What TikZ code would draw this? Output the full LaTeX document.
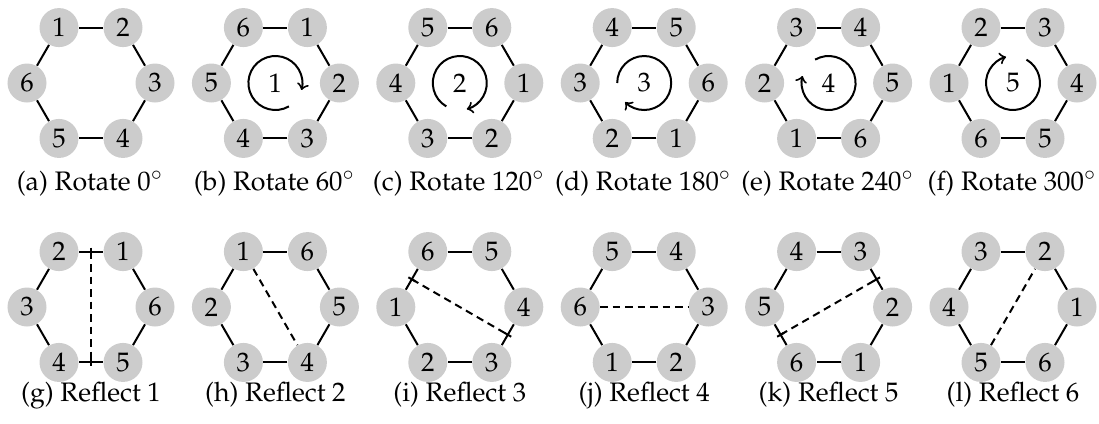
\documentclass[tikz,border=0pt]{standalone}
\usepackage{amsmath}
\usepackage[T1]{fontenc}
\usepackage{mathpazo}
\usepackage{tikz}
\usetikzlibrary{calc,arrows}

\begin{document}
\begin{tikzpicture}[x=0.4pt,y=0.4pt,font=\fontsize{10.7}{12}\selectfont]
\tikzstyle{vtx}=[circle, fill=gray!40, inner sep=0pt, minimum size=15.6pt]
\tikzstyle{edg}=[line width=0.8pt]
\tikzstyle{axis}=[line width=0.8pt, dash pattern=on 3pt off 2pt]
\useasboundingbox (0,0) rectangle (1099,423);
% rotations
\foreach \k/\lt/\ang in {0/a/0,1/b/60,2/c/120,3/d/180,4/e/240,5/f/300}{
\foreach \i in {0,...,5}{
\pgfmathtruncatemacro{\lab}{mod(\i-\k+6,6)+1}
\node[vtx] (r\k\i) at ({91+184.4*\k+64*cos(120-60*\i)},{340+64*sin(120-60*\i)}){\lab};
}
\foreach \i in {0,...,5}{\draw[edg] let \n1 = {int(mod(\i+1,6))} in (r\k\i) -- (r\k\n1);}
\node[anchor=base] (rc\k) at ({90+184.4*\k},233){(\lt) Rotate \ang$^\circ$};
}
\foreach \k in {1,...,5}{
\node (c\k) at ({91+184.4*\k},340){\k};
\draw[edg,->] (c\k.center) ++({-60*\k}:27) arc[start angle={-60*\k}, end angle={-60*\k-315}, radius=27];
}
% reflections
\foreach \j/\lt in {1/g,2/h,3/i,4/j,5/k,6/l}{
\foreach \i in {0,...,5}{
\pgfmathtruncatemacro{\lab}{mod(8-\j-\i+12,6)+1}
\node[vtx] (f\j\i) at ({91+184.4*(\j-1)+64*cos(120-60*\i)},{116+64*sin(120-60*\i)}){\lab};
}
\foreach \i in {0,...,5}{\draw[edg] let \n1 = {int(mod(\i+1,6))} in (f\j\i) -- (f\j\n1);}
\node[anchor=base] (fc\j) at ({91+184.4*(\j-1)},22){(\lt) Reflect \j};
}
% axes through two vertices
\foreach \j/\ia/\ib in {2/0/3,4/5/2,6/4/1}{\draw[axis] (f\j\ia) -- (f\j\ib);}
% axes through two edge midpoints
\foreach \j in {1,3,5}{
\pgfmathsetmacro{\a}{60+30*\j}
\coordinate (ma\j) at ({91+184.4*(\j-1)+55.4*cos(\a)},{116+55.4*sin(\a)});
\coordinate (mb\j) at ({91+184.4*(\j-1)-55.4*cos(\a)},{116-55.4*sin(\a)});
\draw[axis] (ma\j) -- (mb\j);
\draw[edg] (ma\j) ++(\a:4) -- ++(\a+180:8);
\draw[edg] (mb\j) ++(\a:4) -- ++(\a+180:8);
}
\end{tikzpicture}
\end{document}
